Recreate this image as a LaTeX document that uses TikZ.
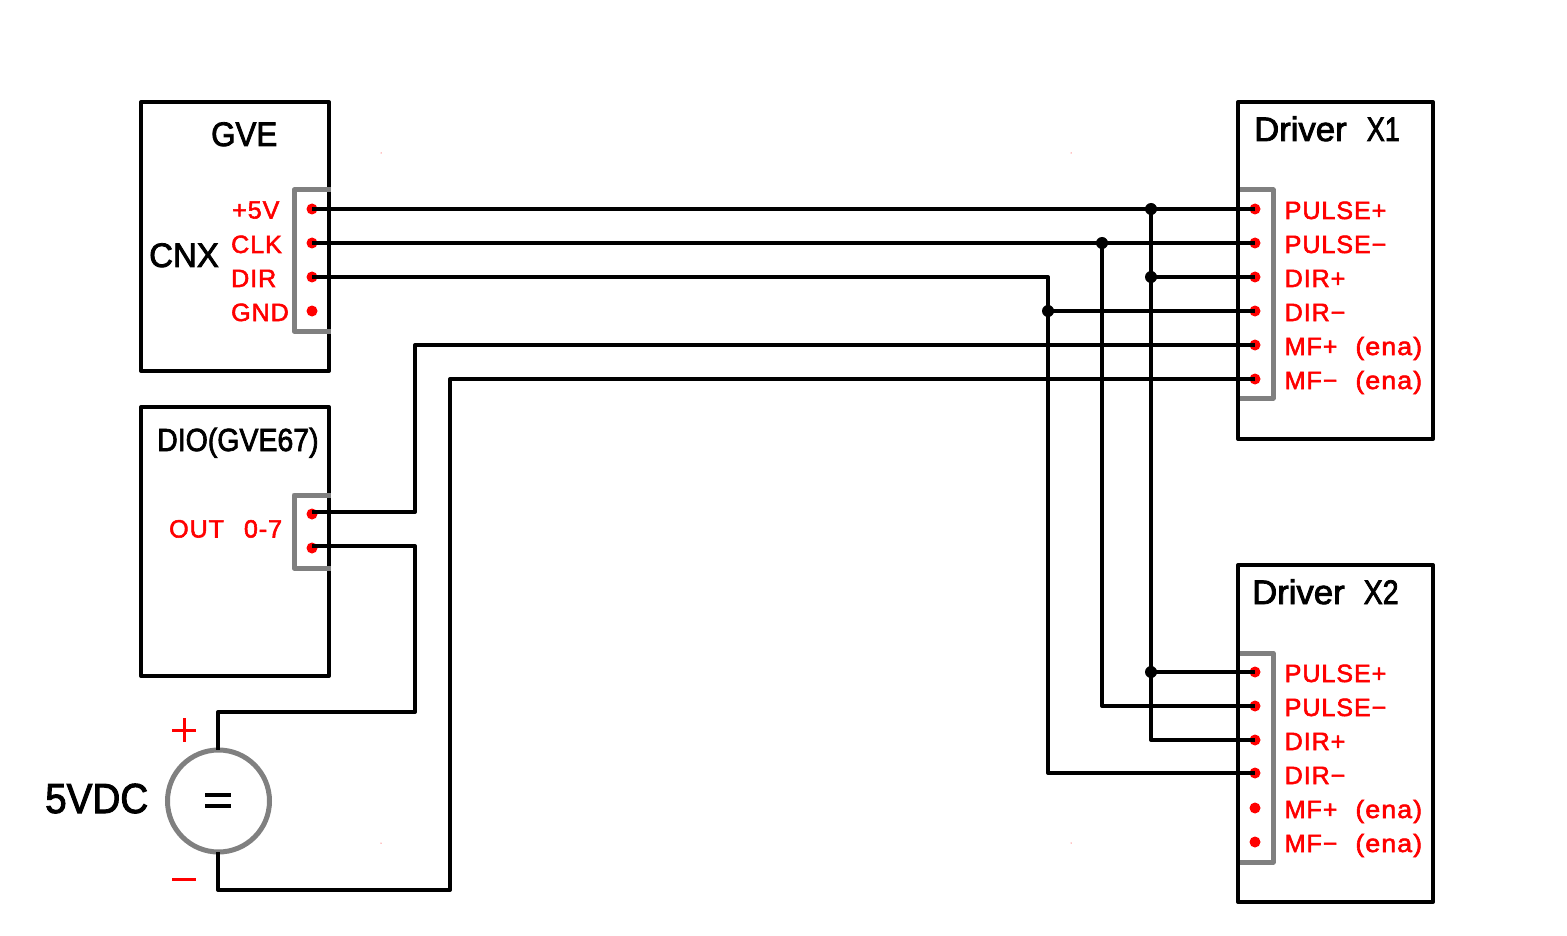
\documentclass[tikz,border=0pt]{standalone}
\usepackage{fontspec}
\setmainfont{Liberation Sans}
\newfontfamily\lfont[FakeBold=2.2,LetterSpace=4]{Liberation Sans}
\newfontfamily\tfont[FakeBold=2.4]{Liberation Sans}
\newcommand{\gap}[1]{\hspace*{#1pt}}
\newcommand{\ena}{\scalebox{1.07}[1]{(ena)}}
\tikzset{
  x=1pt,y=-1pt,
  wire/.style={draw=black,line width=4pt,line join=round},
  boxline/.style={draw=black,line width=4pt,line join=round},
  conn/.style={draw=black!50,line width=5pt,line join=round},
  pin/.style={circle,fill=red,inner sep=0pt,minimum size=11pt},
  junct/.style={circle,fill=black,inner sep=0pt,minimum size=12pt},
  lab/.style={anchor=base west,inner sep=0pt,text=red,font=\fontsize{25}{25}\lfont},
  title/.style={anchor=base west,inner sep=0pt,text=black},
  tmed/.style={title,font=\fontsize{34}{34}\tfont},
  tbig/.style={title,font=\fontsize{42}{42}\tfont},
  sign/.style={draw=red,line width=3pt},
}
\begin{document}
\begin{tikzpicture}
\useasboundingbox (0,0) rectangle (1567,936);
% boxes
\node[boxline,rectangle,inner sep=0pt,minimum width=188pt,minimum height=269pt] (gve) at (235,236.5) {};
\node[boxline,rectangle,inner sep=0pt,minimum width=188pt,minimum height=269pt] (dio) at (235,541.5) {};
\node[boxline,rectangle,inner sep=0pt,minimum width=195pt,minimum height=337pt] (x1) at (1335.5,270.5) {};
\node[boxline,rectangle,inner sep=0pt,minimum width=195pt,minimum height=337pt] (x2) at (1335.5,733.5) {};
% connector outlines
\draw[conn] (330.5,190) -- (294,190) -- (294,331) -- (330.5,331);
\draw[conn] (330.5,495) -- (294,495) -- (294,568) -- (330.5,568);
\draw[conn] (1240,190) -- (1273,190) -- (1273,398) -- (1240,398);
\draw[conn] (1240,653) -- (1273,653) -- (1273,862) -- (1240,862);
% source
\node[circle,draw=black!50,line width=5pt,inner sep=0pt,minimum size=102pt] (src) at (218.5,801) {};
% pins
\foreach \n/\y in {a/209,b/243,c/277,d/311} \node[pin] (g\n) at (312,\y) {};
\foreach \n/\y in {a/514,b/548} \node[pin] (o\n) at (312,\y) {};
\foreach \n/\y in {a/209,b/243,c/277,d/311,e/345,f/379} \node[pin] (p\n) at (1255,\y) {};
\foreach \n/\y in {a/672,b/706,c/740,d/773,e/808,f/842} \node[pin] (q\n) at (1255,\y) {};
% junctions
\node[junct] (j1) at (1151,209) {};
\node[junct] (j2) at (1102,243) {};
\node[junct] (j3) at (1151,277) {};
\node[junct] (j4) at (1048,311) {};
\node[junct] (j5) at (1151,672) {};
% corners
\coordinate (k1) at (1151,740);
\coordinate (k2) at (1102,706);
\coordinate (k3) at (1048,277);
\coordinate (k4) at (1048,773);
\coordinate (m1) at (415,512);
\coordinate (m2) at (415,345);
\coordinate (n1) at (415,546);
\coordinate (n2) at (415,712);
\coordinate (n3) at (218,712);
\coordinate (s1) at (218,890);
\coordinate (s2) at (450,890);
\coordinate (s3) at (450,379);
\coordinate (sa) at (218,750);
\coordinate (sb) at (218,852);
% wires
\draw[wire] (ga.center) -- (pa.center);
\draw[wire] (gb.center) -- (pb.center);
\draw[wire] (gc.center) -- (k3) -- (k4) -- (qd.center);
\draw[wire] (j4.center) -- (pd.center);
\draw[wire] (j3.center) -- (pc.center);
\draw[wire] (j1.center) -- (k1) -- (qc.center);
\draw[wire] (j5.center) -- (qa.center);
\draw[wire] (j2.center) -- (k2) -- (qb.center);
\draw[wire] (oa.center |- m1) -- (m1) -- (m2) -- (pe.center);
\draw[wire] (ob.center |- n1) -- (n1) -- (n2) -- (n3) -- (sa);
\draw[wire] (sb) -- (s1) -- (s2) -- (s3) -- (pf.center);
% equals sign
\coordinate (e1) at (205,795); \coordinate (e2) at (231,795);
\coordinate (e3) at (205,806); \coordinate (e4) at (231,806);
\draw[wire] (e1) -- (e2);
\draw[wire] (e3) -- (e4);
% plus and minus
\draw[sign] (172,730) -- (196,730) (184,718) -- (184,742);
\draw[sign] (172,879) -- (196,879);
% titles
\node[tmed] (tgve) at (211,146) {\scalebox{.92}[1]{GVE}};
\node[tmed] (tcnx) at (149,267) {\scalebox{.97}[1]{CNX}};
\node[tmed] (tx1) at (1254,141) {\scalebox{1.02}[1]{Driver}\gap{20}\scalebox{.8}[1]{X1}};
\node[tmed] (tx2) at (1252,604) {\scalebox{1.02}[1]{Driver}\gap{19}\scalebox{.84}[1]{X2}};
\node[tmed,font=\fontsize{32}{32}\tfont] (tdio) at (157,451) {\scalebox{.89}[1]{DIO(GVE67)}};
\node[tbig] (t5v) at (45,813) {\scalebox{.92}[1]{5VDC}};
% pin labels
\node[lab] at (232,218.5) {+5V};
\node[lab] at (231,253) {CLK};
\node[lab] at (231,287) {DIR};
\node[lab] at (231,321) {GND};
\node[lab] at (169,537.5) {OUT\gap{20}0-7};
\foreach \y/\t in {219/PULSE+,253/PULSE−,287/DIR+,321/DIR−,355/MF+\gap{18}\ena,389/MF−\gap{18}\ena,
                   682/PULSE+,716/PULSE−,750/DIR+,784/DIR−,818/MF+\gap{18}\ena,852/MF−\gap{18}\ena}
  \node[lab] at (1284.5,\y) {\t};
% specks
\foreach \p in {(381,153),(1071,153),(381,843),(1071,843)} \fill[red] \p circle (0.5pt);
\end{tikzpicture}
\end{document}
